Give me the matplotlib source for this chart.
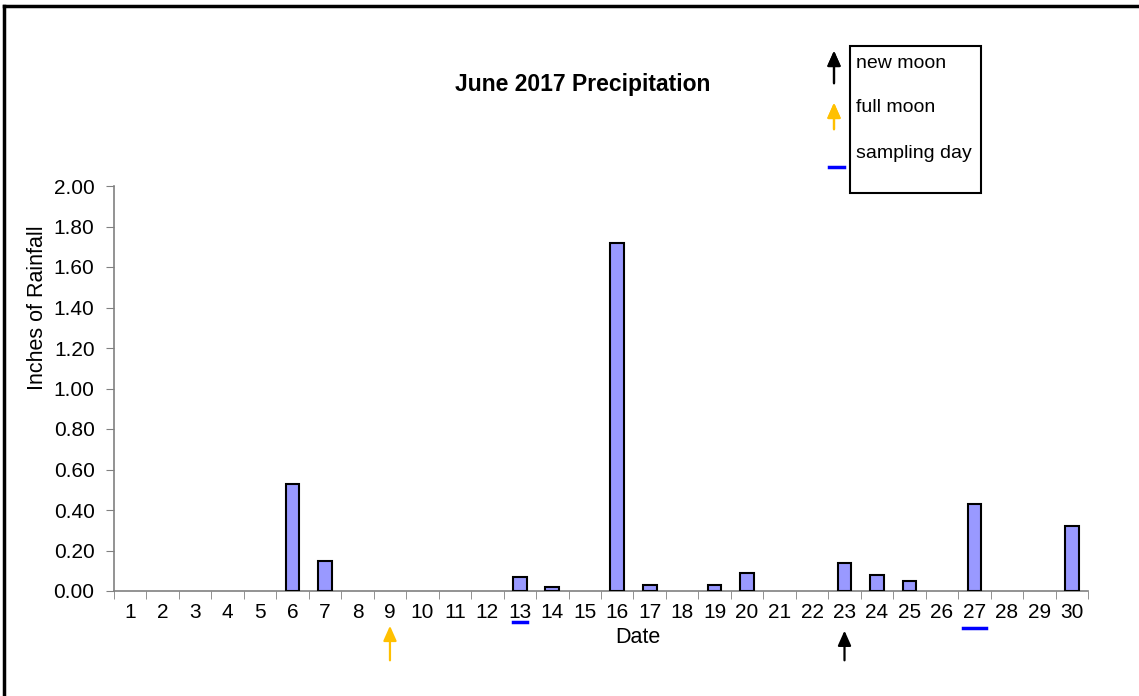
import matplotlib
matplotlib.use("Agg")
import matplotlib.pyplot as plt
from matplotlib.lines import Line2D
from matplotlib.patches import Rectangle

plt.rcParams['font.family'] = ['Liberation Sans', 'DejaVu Sans']

# June 2017 daily rainfall (inches)
days = list(range(1, 31))
rain = [0, 0, 0, 0, 0, 0.53, 0.15, 0, 0, 0,
        0, 0, 0.07, 0.02, 0, 1.72, 0.03, 0, 0.03, 0.09,
        0, 0, 0.14, 0.08, 0.05, 0, 0.43, 0, 0, 0.32]
y_ticks = [0.0, 0.2, 0.4, 0.6, 0.8, 1.0, 1.2, 1.4, 1.6, 1.8, 2.0]
new_moon_days = [23]
full_moon_days = [9]
sampling_days = [13, 27]

W, H = 1139, 696
fig = plt.figure(figsize=(W / 100, H / 100), dpi=100)
ax = fig.add_axes([114 / W, 1 - 591 / H, (1088 - 114) / W, (591 - 186) / H])

# dry days get no outline so they leave no mark on the baseline
edge_w = [1.5 if v > 0 else 0 for v in rain]
ax.bar(days, rain, width=0.42, color='#9999FF', edgecolor='black', linewidth=edge_w, zorder=3)

ax.set_xlim(0.5, 30.5)
ax.set_ylim(0, 2.0)
ax.set_yticks(y_ticks)
ax.set_yticklabels([f"{v:.2f}" for v in y_ticks], fontsize=15)
ax.set_xticks(days)
ax.set_xticklabels([str(d) for d in days], fontsize=15)
ax.set_xticks([d + 0.5 for d in range(0, 31)], minor=True)
ax.tick_params(axis='x', which='major', length=0, pad=9)
ax.tick_params(axis='x', which='minor', length=6, direction='out', color='#808080')
ax.tick_params(axis='y', length=6, direction='out', color='#808080', pad=8)

for s in ['top', 'right']:
    ax.spines[s].set_visible(False)
for s in ['left', 'bottom']:
    ax.spines[s].set_color('#808080')
    ax.spines[s].set_linewidth(1.2)

ax.set_ylabel('Inches of Rainfall', fontsize=15.5)
ax.yaxis.set_label_coords(-0.068, 0.70)
ax.set_xlabel('Date', fontsize=15.5)
ax.xaxis.set_label_coords(0.538, -0.09)

fig.text(583 / W, 1 - 84 / H, 'June 2017 Precipitation', fontsize=16.5, fontweight='bold',
         ha='center', va='center')

# Moon phase arrows and sampling markers under the date axis
trans = ax.get_xaxis_transform()
arrow_style = dict(arrowstyle='-|>,head_width=0.4,head_length=0.9', lw=1.6)
for d in full_moon_days:
    ax.annotate('', xy=(d, -0.079), xytext=(d, -0.178), xycoords=trans, textcoords=trans,
                arrowprops=dict(color='#FFC000', **arrow_style), annotation_clip=False)
for d in new_moon_days:
    ax.annotate('', xy=(d, -0.091), xytext=(d, -0.178), xycoords=trans, textcoords=trans,
                arrowprops=dict(color='black', **arrow_style), annotation_clip=False)
sample_y = {13: -0.0765, 27: -0.091}
sample_half = {13: 0.22, 27: 0.36}
for d in sampling_days:
    ax.add_line(Line2D([d - sample_half[d], d + sample_half[d]], [sample_y[d]] * 2,
                       transform=trans, color='#0000FF', lw=2.5, clip_on=False))

# Legend box with symbols drawn beside it
ftr = fig.transFigure
fig.patches.append(Rectangle((850 / W, 1 - 193 / H), (981 - 850) / W, (193 - 46) / H,
                             transform=ftr, fill=False, edgecolor='black', lw=1.5))
fig.text(856 / W, 1 - 63 / H, 'new moon', fontsize=14, va='center', ha='left')
fig.text(856 / W, 1 - 108 / H, 'full moon', fontsize=14, va='center', ha='left')
fig.text(856 / W, 1 - 154 / H, 'sampling day', fontsize=14, va='center', ha='left')
fig.add_artist(plt.annotate('', xy=(834 / W, 1 - 48 / H), xytext=(834 / W, 1 - 86 / H),
                            xycoords=ftr, textcoords=ftr,
                            arrowprops=dict(color='black', **arrow_style)))
fig.add_artist(plt.annotate('', xy=(834 / W, 1 - 100 / H), xytext=(834 / W, 1 - 132 / H),
                            xycoords=ftr, textcoords=ftr,
                            arrowprops=dict(color='#FFC000', **arrow_style)))
fig.add_artist(Line2D([829 / W, 844 / W], [1 - 167 / H] * 2, transform=ftr,
                      color='#0000FF', lw=2.5))

# Outer frame (top and left edges)
fig.add_artist(Line2D([4 / W, 1.0], [1 - 6 / H] * 2, transform=ftr, color='black', lw=2.5))
fig.add_artist(Line2D([4 / W, 4 / W], [0, 1 - 6 / H], transform=ftr, color='black', lw=2.5))

fig.savefig('out.png', dpi=100)
